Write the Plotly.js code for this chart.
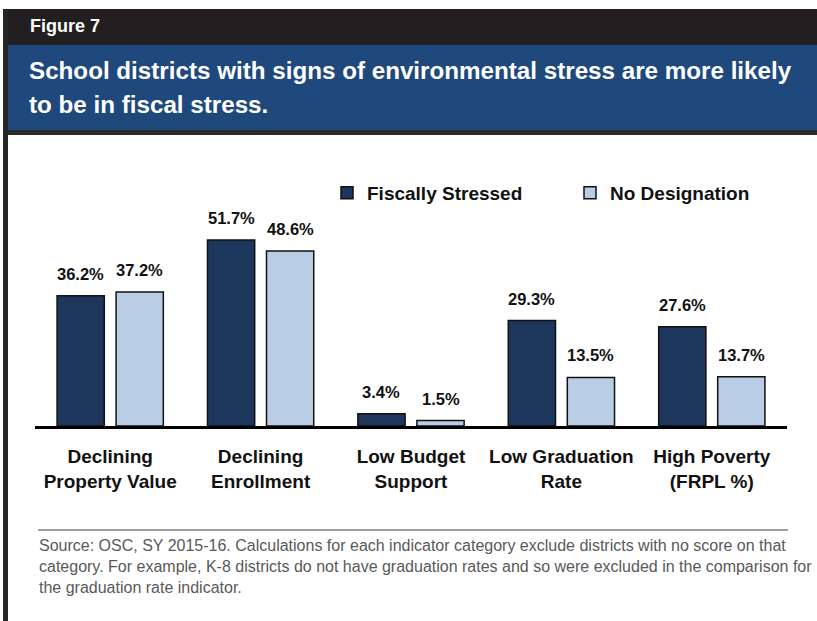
<!DOCTYPE html>
<html>
<head>
<meta charset="utf-8">
<script src="https://cdn.plot.ly/plotly-3.0.1.min.js"></script>
<style>html,body{margin:0;padding:0;background:#fff;}#chart{width:817px;height:621px;}</style>
</head>
<body>
<div id="chart"></div>
<script>
// ---- data ----
const categories = ['Declining Property Value', 'Declining Enrollment', 'Low Budget Support', 'Low Graduation Rate', 'High Poverty (FRPL %)'];
const tickLabels = ['Declining<br>Property Value', 'Declining<br>Enrollment', 'Low Budget<br>Support', 'Low Graduation<br>Rate', 'High Poverty<br>(FRPL %)'];
const fiscallyStressed = [36.2, 51.7, 3.4, 29.3, 27.6];
const noDesignation = [37.2, 48.6, 1.5, 13.5, 13.7];
const seriesNames = ['Fiscally Stressed', 'No Designation'];
const figureLabel = 'Figure 7';
const titleLines = ['School districts with signs of environmental stress are more likely', 'to be in fiscal stress.'];
const noteLines = [
  'Source: OSC, SY 2015-16. Calculations for each indicator category exclude districts with no score on that',
  'category. For example, K-8 districts do not have graduation rates and so were excluded in the comparison for',
  'the graduation rate indicator.'
];

// ---- layout helpers ----
const W = 817, H = 621;
const M = {l: 35, r: 30, t: 210, b: 195};
const PW = W - M.l - M.r, PH = H - M.t - M.b;
const xp = X => (X - M.l) / PW;
const yp = Y => (H - M.b - Y) / PH;
const BARGAP = 0.215, GROUPGAP = 0.2;
const slotOffset = (1 - BARGAP) / 4;

const darkColor = '#1c365c';
const lightColor = '#b9cde5';
const boldFont = 'Liberation Sans, Arial, sans-serif';

const traces = [
  {type: 'bar', name: seriesNames[0], x: categories, y: fiscallyStressed,
   marker: {color: darkColor, line: {color: '#111', width: 1.5}}, legend: 'legend', hoverinfo: 'skip'},
  {type: 'bar', name: seriesNames[1], x: categories, y: noDesignation,
   marker: {color: lightColor, line: {color: '#111', width: 1.5}}, legend: 'legend2', hoverinfo: 'skip'}
];

const annotations = [];
[fiscallyStressed, noDesignation].forEach((vals, s) => {
  vals.forEach((v, i) => {
    annotations.push({x: i + (s === 0 ? -slotOffset : slotOffset), y: v, xref: 'x', yref: 'y',
      text: v.toFixed(1) + '%', showarrow: false, xanchor: 'center', yanchor: 'bottom', yshift: 11,
      font: {family: boldFont, size: 16.5, color: '#111', weight: 'bold'}});
  });
});
annotations.push({x: xp(28), y: yp(26), xref: 'paper', yref: 'paper', text: figureLabel, showarrow: false,
  xanchor: 'left', yanchor: 'middle', font: {family: boldFont, size: 18, color: '#fff', weight: 'bold'}});
annotations.push({x: xp(27), y: yp(70.5), xref: 'paper', yref: 'paper', text: titleLines[0], showarrow: false,
  xanchor: 'left', yanchor: 'middle', font: {family: boldFont, size: 24.2, color: '#fff', weight: 'bold'}});
annotations.push({x: xp(27), y: yp(104.5), xref: 'paper', yref: 'paper', text: titleLines[1], showarrow: false,
  xanchor: 'left', yanchor: 'middle', font: {family: boldFont, size: 24.2, color: '#fff', weight: 'bold'}});
const noteY = [545.5, 566.5, 587.5];
noteLines.forEach((t, k) => {
  annotations.push({x: xp(37), y: yp(noteY[k]), xref: 'paper', yref: 'paper', text: t, showarrow: false,
    xanchor: 'left', yanchor: 'middle', font: {family: 'Liberation Sans, Arial, sans-serif', size: 16, color: '#595959'}});
});

const shapes = [
  {type: 'rect', xref: 'paper', yref: 'paper', x0: xp(3), x1: xp(W), y0: yp(9), y1: yp(45), fillcolor: '#231f20', line: {width: 0}, layer: 'below'},
  {type: 'rect', xref: 'paper', yref: 'paper', x0: xp(3), x1: xp(W), y0: yp(45), y1: yp(135), fillcolor: '#2b2b2b', line: {width: 0}, layer: 'below'},
  {type: 'rect', xref: 'paper', yref: 'paper', x0: xp(8), x1: xp(W), y0: yp(45), y1: yp(130), fillcolor: '#1f497d', line: {width: 0}, layer: 'below'},
  {type: 'rect', xref: 'paper', yref: 'paper', x0: xp(3), x1: xp(8), y0: yp(9), y1: yp(H), fillcolor: '#262626', line: {width: 0}, layer: 'below'},
  {type: 'line', xref: 'paper', yref: 'paper', x0: xp(38), x1: xp(788), y0: yp(530), y1: yp(530), line: {color: '#808080', width: 1.5}}
];

const legendFont = {family: boldFont, size: 19, color: '#111', weight: 'bold'};
const layout = {
  width: W, height: H,
  margin: M,
  paper_bgcolor: '#fff', plot_bgcolor: 'rgba(0,0,0,0)',
  barmode: 'group', bargap: BARGAP, bargroupgap: GROUPGAP,
  xaxis: {type: 'category', tickmode: 'array', tickvals: categories, ticktext: tickLabels,
    showline: true, linecolor: '#000', linewidth: 3, ticks: '', showgrid: false, zeroline: false,
    ticklabelstandoff: 11, tickfont: {family: boldFont, size: 19, color: '#111', weight: 'bold'}, fixedrange: true},
  yaxis: {range: [0, 60], visible: false, showgrid: false, zeroline: false, fixedrange: true},
  showlegend: true,
  legend: {orientation: 'h', x: xp(327), xanchor: 'left', y: yp(193), yanchor: 'middle', font: legendFont, bgcolor: 'rgba(0,0,0,0)'},
  legend2: {orientation: 'h', x: xp(570), xanchor: 'left', y: yp(193), yanchor: 'middle', font: legendFont, bgcolor: 'rgba(0,0,0,0)'},
  annotations: annotations,
  shapes: shapes
};

Plotly.newPlot('chart', traces, layout, {staticPlot: true, displayModeBar: false});
</script>
</body>
</html>
